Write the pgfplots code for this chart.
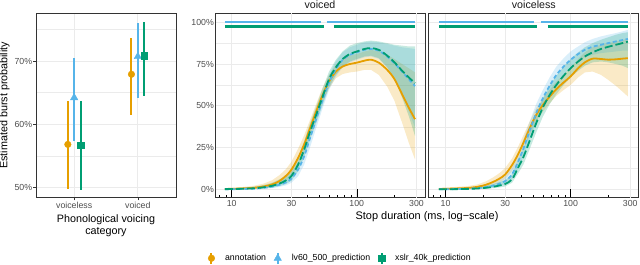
\documentclass[border=0pt]{standalone}
\usepackage{fontspec}
\setmainfont{Liberation Sans}
\usepackage{pgfplots}
\pgfplotsset{compat=1.18}
\usepackage{pgfplotstable}
\definecolor{cA}{HTML}{E69F00}
\definecolor{cB}{HTML}{56B4E9}
\definecolor{cG}{HTML}{009E73}
\definecolor{gridc}{HTML}{EBEBEB}
\definecolor{frm}{HTML}{333333}
\definecolor{ticklab}{HTML}{4D4D4D}

% left panel: x y err+ err-
\pgfplotstableread{
x y ep em
0.9 56.8 6.9 7.1
1.9 67.9 5.8 6.4
}\PA
\pgfplotstableread{
x y ep em
1.0 64.2 6.3 6.9
2.0 70.7 5.3 6.5
}\PB
\pgfplotstableread{
x y ep em
1.1 56.7 6.9 7.1
2.1 70.8 5.4 6.3
}\PG

% curves: x y
\pgfplotstableread{
x y
8.8 0.3
10 0.4
12 0.6
15 1.0
18 1.8
21 3.0
24 5.0
27 8.0
30 11.8
34 19.0
38 27.0
42 36.0
47 46.0
53 56.0
60 64.5
68 70.5
77 73.5
88 75.0
100 75.8
115 77.0
130 77.6
150 75.8
175 71.5
200 66.0
230 57.0
260 49.0
292 42.0
}\VA
\pgfplotstableread{
x y
8.8 0.1
10 0.15
12 0.3
15 0.5
18 1.0
21 1.7
24 2.8
27 4.2
30 6.5
34 12.0
38 20.0
42 30.0
47 41.5
53 53.0
60 64.0
68 72.0
77 77.5
88 80.5
100 82.0
115 83.5
130 84.0
150 83.0
175 79.5
200 75.5
230 70.5
260 66.0
292 61.8
}\VB
\pgfplotstableread{
x y
8.8 0.2
10 0.25
12 0.4
15 0.7
18 1.3
21 2.2
24 3.5
27 5.3
30 8.0
34 15.0
38 24.0
42 34.0
47 44.0
53 55.0
60 66.0
68 73.0
77 78.0
88 81.0
100 82.5
115 84.0
130 84.5
150 83.5
175 80.0
200 76.0
230 71.0
260 67.0
292 63.6
}\VG
\pgfplotstableread{
x y
8.85 0.3
10 0.4
12 0.6
15 0.9
18 1.6
21 2.8
24 4.5
27 6.5
30 9.0
34 14.5
38 21.0
42 28.0
47 36.5
53 44.5
60 50.5
68 55.5
77 60.0
88 64.0
100 67.6
115 72.5
130 76.0
150 78.2
175 78.0
200 77.6
230 77.8
260 78.2
287 78.5
}\LA
\pgfplotstableread{
x y
8.85 0.1
10 0.15
12 0.25
15 0.45
18 0.8
21 1.4
24 2.3
27 3.5
30 5.0
34 9.0
38 16.5
42 24.5
47 35.0
53 45.5
60 54.5
68 62.0
77 68.5
88 73.5
100 77.5
115 81.0
130 83.5
150 85.3
175 86.5
200 87.5
230 88.5
260 89.3
287 90.0
}\LB
\pgfplotstableread{
x y
8.85 0.1
10 0.15
12 0.2
15 0.35
18 0.6
21 1.0
24 1.6
27 2.4
30 3.3
34 6.0
38 13.0
42 19.5
47 29.0
53 39.5
60 49.0
68 56.5
77 62.5
88 68.0
100 72.5
115 76.5
130 79.5
150 82.0
175 84.0
200 85.3
230 86.5
260 87.5
287 88.4
}\LG

\pgfplotsset{
  ribA/.style={fill=cA, fill opacity=0.22, draw=none, forget plot},
  ribB/.style={fill=cB, fill opacity=0.22, draw=none, forget plot},
  ribG/.style={fill=cG, fill opacity=0.22, draw=none, forget plot},
  lnA/.style={cA, line width=1.8bp, smooth, forget plot},
  lnB/.style={cB, line width=1.8bp, smooth, dash pattern=on 4bp off 2.5bp, forget plot},
  lnG/.style={cG, line width=1.8bp, smooth, dash pattern=on 8bp off 3bp, forget plot},
  sigB/.style={cB, line width=2.3bp, forget plot},
  sigG/.style={cG, line width=2.3bp, forget plot},
}

\begin{document}
\begin{tikzpicture}
\useasboundingbox (0,0) rectangle (640bp,265bp);

% ---------- left panel ----------
\begin{axis}[scale only axis, at={(36bp,67.5bp)}, anchor=south west,
  width=140bp, height=184.5bp,
  axis line style={frm, line width=0.9bp},
  grid=both,
  major grid style={gridc, line width=0.9bp},
  minor grid style={gridc, line width=0.45bp},
  tick label style={font=\fontsize{8.8}{10}\selectfont, text=ticklab},
  yticklabel style={inner xsep=1bp},
  xticklabel style={inner ysep=2bp},
  xtick pos=bottom, ytick pos=left,
  tick style={frm, line width=0.6bp},
  major tick length=2.75bp, minor tick length=0pt, tick align=outside,
  xmin=0.4, xmax=2.6, ymin=48.4, ymax=77.6,
  xtick={1,2}, xticklabels={voiceless,voiced},
  ytick={50,60,70}, yticklabels={50\%,60\%,70\%},
  minor ytick={55,65,75},
  ylabel={Estimated burst probability},
  ylabel style={at={(axis description cs:-0.225,0.5)}, anchor=center,
    font=\fontsize{10.8}{12}\selectfont, inner sep=0pt},
  xlabel={Phonological voicing\\category},
  xlabel style={at={(axis description cs:0.5,-0.092)}, anchor=north, align=center,
    font=\fontsize{10.8}{12}\selectfont, inner sep=0pt},
]
\addplot[cA, only marks, mark=*, mark size=3.3bp,
  error bars/.cd, y dir=both, y explicit, error mark=none,
  error bar style={line width=2bp, cA}]
  table[x=x, y=y, y error plus=ep, y error minus=em]{\PA};
\addplot[cB, only marks, mark=triangle*, mark size=4.3bp,
  error bars/.cd, y dir=both, y explicit, error mark=none,
  error bar style={line width=2bp, cB}]
  table[x=x, y=y, y error plus=ep, y error minus=em]{\PB};
\addplot[cG, only marks, mark=square*, mark size=3.3bp,
  error bars/.cd, y dir=both, y explicit, error mark=none,
  error bar style={line width=2bp, cG}]
  table[x=x, y=y, y error plus=ep, y error minus=em]{\PG};
\end{axis}

% ---------- voiced panel ----------
\begin{axis}[scale only axis, at={(215bp,67.5bp)}, anchor=south west,
  xmode=log, xmin=7.35, xmax=351, ymin=-4.8, ymax=105.5,
  width=210bp, height=184.5bp,
  axis line style={frm, line width=0.9bp},
  major grid style={gridc, line width=0.9bp},
  minor grid style={gridc, line width=0.45bp},
  tick label style={font=\fontsize{8.8}{10}\selectfont, text=ticklab},
  yticklabel style={inner xsep=1bp},
  xticklabel style={inner ysep=3bp},
  xtick pos=bottom, ytick pos=left,
  xmajorgrids, ymajorgrids, yminorgrids,
  xtick={10,100}, xticklabels={10,100},
  extra x ticks={30,300}, extra x tick labels={30,300},
  extra x tick style={grid=major, major tick length=0pt},
  minor xtick={8,9,20,30,40,50,60,70,80,90,200,300},
  ytick={0,25,50,75,100}, minor ytick={12.5,37.5,62.5,87.5},
  yticklabels={0\%,25\%,50\%,75\%,100\%},
  tick align=inside,
  major tick length=8bp, minor tick length=2.7bp,
  tick style={black, line width=0.6bp},
  y tick style={draw=none},
  minor y tick style={draw=none},
  title={voiced},
  every axis title/.style={at={(0.5,1)}, anchor=base, yshift=4.7bp, inner sep=0pt,
      font=\fontsize{10.7}{12}\selectfont, text=black!90},
  legend columns=3,
  legend style={at={(-0.0334,-0.3294)}, anchor=west, draw=none, fill=none,
    inner sep=0pt, font=\fontsize{8.8}{10}\selectfont,
    /tikz/every odd column/.append style={column sep=8.3bp},
    /tikz/every even column/.append style={column sep=6bp}},
  legend cell align=left,
]
\addplot[ribA] coordinates {(8.8,0.8)(10,1.0)(12,1.4)(15,2.2)(18,3.5)(21,5.5)(24,8.5)(27,12)(30,16.5)(34,24.5)(38,32.5)(42,41)(47,50.5)(53,60.5)(60,68.5)(68,74.5)(77,78)(88,80)(100,81)(115,82.5)(130,83.5)(150,82.5)(175,80.5)(200,78)(230,75)(260,72.5)(292,70)
 (292,18)(260,28)(230,40)(200,53)(175,61.5)(150,68.5)(130,71.5)(115,71.5)(100,70.5)(88,70)(77,69)(68,66.5)(60,60.5)(53,52)(47,41.5)(42,31)(38,22)(34,14)(30,8)(27,5)(24,3)(21,1.6)(18,0.9)(15,0.4)(12,0.2)(10,0.1)(8.8,0)} -- cycle;
\addplot[ribB] coordinates {(8.8,0.4)(10,0.5)(12,0.8)(15,1.3)(18,2.2)(21,3.4)(24,5)(27,7)(30,10)(34,16.5)(38,25.5)(42,35.5)(47,47)(53,58)(60,68.5)(68,76.5)(77,82)(88,85)(100,86.5)(115,88)(130,88.5)(150,88)(175,87)(200,86)(230,85)(260,84.5)(292,84)
 (292,37)(260,47)(230,57)(200,66.5)(175,73)(150,78)(130,79.5)(115,79)(100,77.5)(88,76)(77,73)(68,67.5)(60,59.5)(53,48)(47,36)(42,24.5)(38,15)(34,8)(30,4)(27,2.4)(24,1.5)(21,0.8)(18,0.4)(15,0.2)(12,0.1)(10,0)(8.8,0)} -- cycle;
\addplot[ribG] coordinates {(8.8,0.6)(10,0.7)(12,1.0)(15,1.6)(18,2.7)(21,4)(24,6)(27,8.3)(30,11.5)(34,19.5)(38,29)(42,39)(47,49)(53,60)(60,70.5)(68,77.5)(77,82.5)(88,86)(100,87.5)(115,88.5)(130,89)(150,88.5)(175,87.5)(200,86.5)(230,86)(260,85.5)(292,85.5)
 (292,32)(260,44)(230,55)(200,66)(175,73)(150,78.5)(130,80)(115,79.5)(100,78)(88,76.5)(77,73.5)(68,68.5)(60,61)(53,50)(47,39)(42,29)(38,19.5)(34,11)(30,5.2)(27,3.2)(24,2)(21,1.1)(18,0.6)(15,0.3)(12,0.1)(10,0.05)(8.8,0)} -- cycle;

\addplot[lnA] table[x=x,y=y]{\VA};
\addplot[lnB] table[x=x,y=y]{\VB};
\addplot[lnG] table[x=x,y=y]{\VG};

\addplot[sigB] coordinates {(8.8,100) (51.5,100)};
\addplot[sigB] coordinates {(57.5,100) (292,100)};
\addplot[sigG] coordinates {(8.8,97.4) (55,97.4)};
\addplot[sigG] coordinates {(66.2,97.4) (292,97.4)};

\addlegendimage{cA, legend image code/.code={
    \draw[cA, line width=2bp] (4bp,-5.75bp) -- (4bp,5.75bp);
    \draw[cA] plot[mark=*, mark size=3.3bp] coordinates {(4bp,0bp)};}}
\addlegendentry{annotation}
\addlegendimage{cB, legend image code/.code={
    \draw[cB, line width=2bp] (4bp,-5.75bp) -- (4bp,5.75bp);
    \draw[cB] plot[mark=triangle*, mark size=4.3bp] coordinates {(4bp,0bp)};}}
\addlegendentry{lv60\_500\_prediction}
\addlegendimage{cG, legend image code/.code={
    \draw[cG, line width=2bp] (4bp,-5.75bp) -- (4bp,5.75bp);
    \draw[cG] plot[mark=square*, mark size=3.3bp] coordinates {(4bp,0bp)};}}
\addlegendentry{xslr\_40k\_prediction}
\end{axis}

% ---------- voiceless panel ----------
\begin{axis}[scale only axis, at={(428.8bp,67.5bp)}, anchor=south west,
  xmode=log, xmin=7.35, xmax=351, ymin=-4.8, ymax=105.5,
  width=210bp, height=184.5bp,
  axis line style={frm, line width=0.9bp},
  major grid style={gridc, line width=0.9bp},
  minor grid style={gridc, line width=0.45bp},
  tick label style={font=\fontsize{8.8}{10}\selectfont, text=ticklab},
  xticklabel style={inner ysep=3bp},
  xtick pos=bottom, ytick pos=left,
  xmajorgrids, ymajorgrids, yminorgrids,
  xtick={10,100}, xticklabels={10,100},
  extra x ticks={30,300}, extra x tick labels={30,300},
  extra x tick style={grid=major, major tick length=0pt},
  minor xtick={8,9,20,30,40,50,60,70,80,90,200,300},
  ytick={0,25,50,75,100}, minor ytick={12.5,37.5,62.5,87.5},
  yticklabels={},
  tick align=inside,
  major tick length=8bp, minor tick length=2.7bp,
  tick style={black, line width=0.6bp},
  y tick style={draw=none},
  minor y tick style={draw=none},
  title={voiceless},
  every axis title/.style={at={(0.5,1)}, anchor=base, yshift=4.7bp, inner sep=0pt,
      font=\fontsize{10.7}{12}\selectfont, text=black!90},
]
\addplot[ribA] coordinates {(8.85,0.9)(10,1.1)(12,1.5)(15,2)(18,3)(21,4.8)(24,7.2)(27,9.8)(30,12.8)(34,18.5)(38,25.5)(42,32.5)(47,40.5)(53,48.5)(60,54.5)(68,59.5)(77,64.5)(88,68.5)(100,72.5)(115,78)(130,82)(150,85)(175,86.5)(200,87.5)(230,88.5)(260,89.5)(287,90)
 (287,55.6)(260,58.5)(230,62)(200,65.5)(175,68.5)(150,70.5)(130,70)(115,67)(100,62.5)(88,59.5)(77,56)(68,51.5)(60,46.5)(53,40.5)(47,32.5)(42,24)(38,17)(34,11)(30,6.3)(27,4.3)(24,2.7)(21,1.5)(18,0.8)(15,0.4)(12,0.2)(10,0.1)(8.85,0)} -- cycle;
\addplot[ribB] coordinates {(8.85,0.5)(10,0.6)(12,0.8)(15,1.2)(18,1.8)(21,2.8)(24,4.2)(27,6)(30,8)(34,13)(38,21.5)(42,30)(47,40.5)(53,51)(60,59.5)(68,67)(77,73.5)(88,78.5)(100,82.5)(115,85.5)(130,88)(150,90)(175,91.5)(200,92.5)(230,93.5)(260,94.5)(287,95.4)
 (287,83)(260,83)(230,82.5)(200,82)(175,81.5)(150,80.5)(130,79)(115,76.5)(100,72.5)(88,68.5)(77,63.5)(68,57)(60,49.5)(53,40)(47,29.5)(42,19.5)(38,12.5)(34,6)(30,3)(27,1.9)(24,1.1)(21,0.6)(18,0.3)(15,0.1)(12,0.05)(10,0)(8.85,0)} -- cycle;
\addplot[ribG] coordinates {(8.85,0.5)(10,0.6)(12,0.7)(15,1)(18,1.5)(21,2.2)(24,3.2)(27,4.4)(30,5.6)(34,9)(38,17.5)(42,24.5)(47,34.5)(53,45)(60,54.5)(68,62)(77,68)(88,73.5)(100,78)(115,82)(130,85)(150,87.5)(175,89.5)(200,91)(230,92.5)(260,93.5)(287,94)
 (287,72.6)(260,74)(230,75)(200,76)(175,76.5)(150,76)(130,74)(115,71)(100,67)(88,62.5)(77,57)(68,51)(60,43.5)(53,34)(47,24)(42,15)(38,9.5)(34,4)(30,1.8)(27,1.2)(24,0.8)(21,0.4)(18,0.2)(15,0.1)(12,0.05)(10,0)(8.85,0)} -- cycle;

\addplot[lnA] table[x=x,y=y]{\LA};
\addplot[lnB] table[x=x,y=y]{\LB};
\addplot[lnG] table[x=x,y=y]{\LG};

\addplot[sigB] coordinates {(8.85,100) (51,100)};
\addplot[sigB] coordinates {(57.6,100) (287,100)};
\addplot[sigG] coordinates {(8.85,97.4) (54.2,97.4)};
\addplot[sigG] coordinates {(65.9,97.4) (287,97.4)};
\end{axis}

\node[anchor=base, font=\fontsize{11}{12}\selectfont, inner sep=0pt]
  at (427bp,45bp) {Stop duration (ms, log−scale)};
\end{tikzpicture}
\end{document}
